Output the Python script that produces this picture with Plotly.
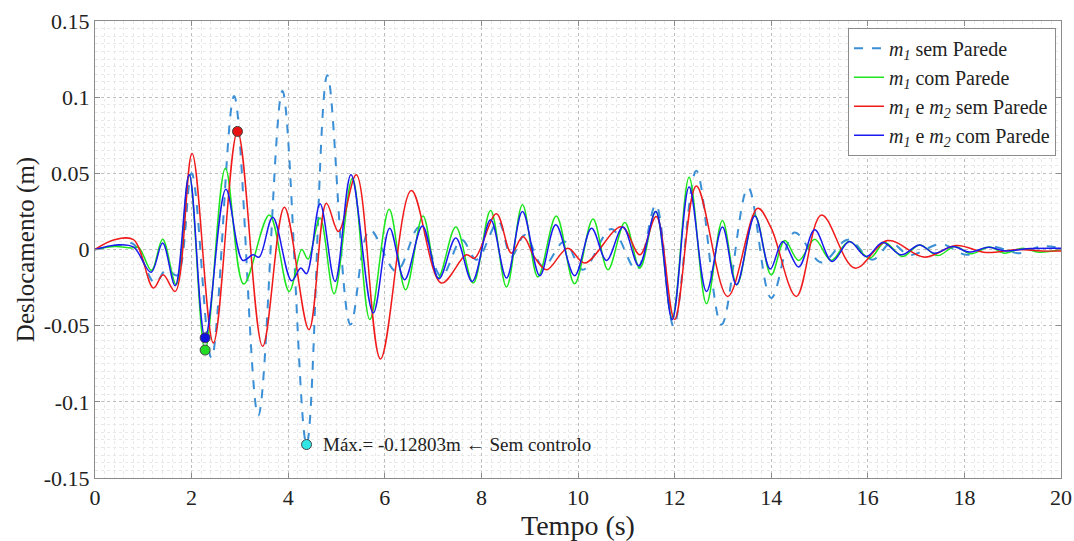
import plotly.graph_objects as go

# Deslocamento do piso 1 - comparacao dos quatro casos

t_m1_sem = [0, 0.52, 0.79, 1.24, 1.48, 1.70, 2.00, 2.41, 2.88, 3.38, 3.88, 4.38, 4.81, 5.29, 5.69,
            6.24, 6.72, 7.17, 7.59, 7.90, 8.35, 8.62, 8.90, 9.28, 9.72, 10.10, 10.69, 11.21, 11.61,
            11.98, 12.45, 12.97, 13.52, 14.0, 14.48, 15.04, 15.59, 16.1, 16.48, 16.86, 17.52, 18.04,
            18.55, 19.14, 19.59, 20]
y_m1_sem = [0, 0.003, 0.0037, -0.022, -0.013, -0.017, 0.050, -0.0711, 0.1007, -0.109, 0.104, -0.128,
            0.1144, -0.0493, 0.0129, -0.0144, 0.015, -0.0177, 0.0064, -0.0067, 0.0183, -0.0046, 0.0096,
            -0.0111, 0.0052, -0.0133, 0.0134, -0.0133, 0.0293, -0.0504, 0.0517, -0.0493, 0.0406, -0.0318,
            0.0111, -0.0085, 0.0064, -0.0067, 0.0042, -0.0035, 0.0035, -0.0035, 0.002, -0.0024, 0.002, 0.001]

t_m1_com = [0, 0.42, 0.75, 0.9, 1.17, 1.40, 1.68, 1.95, 2.28, 2.70, 3.08, 3.61, 4.02, 4.28, 4.41, 4.66,
            4.95, 5.33, 5.69, 6.09, 6.43, 6.79, 7.10, 7.47, 7.83, 8.19, 8.52, 8.85, 9.17, 9.55, 9.93,
            10.31, 10.62, 10.97, 11.28, 11.61, 11.95, 12.30, 12.66, 12.99, 13.29, 13.66, 14.0, 14.28,
            14.57, 14.90, 15.24, 15.61, 16.04, 16.35, 16.72, 17.07, 17.45, 17.8, 18.14, 18.52, 18.83,
            19.2, 19.55, 20]
y_m1_com = [0, 0.002, 0.001, 0.0015, -0.0137, 0.0068, -0.0231, 0.049, -0.066, 0.0533, -0.0227, 0.0227,
            -0.0275, 0.0, -0.0063, 0.0206, -0.029, 0.0467, -0.046, 0.0264, -0.0264, 0.022, -0.0187,
            0.0147, -0.022, 0.0256, -0.0246, 0.0293, -0.018, 0.022, -0.0225, 0.02, -0.0133, 0.0177,
            -0.0122, 0.0249, -0.045, 0.0474, -0.0356, 0.019, -0.0231, 0.0227, -0.0166, 0.0059, -0.0072,
            0.0068, -0.0072, 0.0052, -0.0057, 0.0046, -0.0046, 0.003, -0.004, 0.002, -0.0028, 0.0016,
            -0.0024, 0.0008, -0.0018, 0.0]

t_m12_sem = [0, 0.4, 0.8, 1.21, 1.41, 1.66, 2.01, 2.45, 2.95, 3.47, 3.92, 4.43, 4.79, 5.04, 5.41, 5.91,
             6.55, 7.17, 7.69, 7.86, 8.31, 8.62, 8.86, 9.10, 9.35, 9.79, 10.14, 10.9, 11.28, 11.62, 12.0,
             12.45, 13.1, 13.72, 14.0, 14.52, 15.04, 15.73, 16.41, 17.17, 17.83, 18.45, 19.1, 19.6, 20]
y_m12_sem = [0, 0.0064, 0.0064, -0.0253, -0.0166, -0.0275, 0.063, -0.0613, 0.0775, -0.0635, 0.0278,
             -0.0526, 0.0304, 0.0118, 0.049, -0.0718, 0.0387, -0.022, -0.0035, -0.0057, 0.0234, -0.0024,
             0.0085, -0.0050, -0.0133, 0.0009, -0.0089, 0.015, -0.0035, 0.0216, -0.046, 0.0417, -0.0308,
             0.0271, 0.014, -0.0308, 0.0227, -0.0122, 0.0059, -0.005, 0.0026, -0.002, 0.0, -0.001, -0.001]

t_m12_com = [0, 0.45, 0.8, 1.16, 1.40, 1.66, 1.95, 2.28, 2.71, 3.06, 3.27, 3.40, 3.68, 4.07, 4.26, 4.38,
             4.66, 4.97, 5.30, 5.76, 6.10, 6.41, 6.78, 7.12, 7.47, 7.81, 8.19, 8.52, 8.85, 9.21, 9.54,
             9.93, 10.28, 10.59, 10.93, 11.26, 11.61, 11.95, 12.30, 12.66, 12.99, 13.28, 13.66, 13.98,
             14.24, 14.57, 14.90, 15.26, 15.62, 15.97, 16.31, 16.69, 17.07, 17.38, 17.76, 18.1, 18.5,
             18.86, 19.28, 20]
y_m12_com = [0, 0.003, 0.0015, -0.015, 0.0042, -0.0238, 0.049, -0.058, 0.0396, -0.0072, -0.0035, -0.005,
             0.0212, -0.0205, -0.0122, -0.0159, 0.030, -0.021, 0.049, -0.0417, 0.014, -0.0198, 0.0155,
             -0.0192, 0.0075, -0.021, 0.0195, -0.0187, 0.025, -0.0172, 0.0162, -0.0172, 0.014, -0.0072,
             0.0147, -0.0107, 0.025, -0.046, 0.041, -0.0275, 0.0147, -0.0231, 0.022, -0.0128, 0.0052,
             -0.0115, 0.0129, -0.0078, 0.0052, -0.0046, 0.0046, -0.0035, 0.003, -0.0024, 0.002, -0.0017,
             0.0014, -0.001, 0.0005, 0.0008]

# pontos de maximo assinalados
max_t = [4.38, 2.28, 2.95, 2.28]
max_y = [-0.12803, -0.066, 0.0775, -0.058]
max_cor = ["#33e6e6", "#22dd22", "#e81010", "#1010e0"]

x_ticks = [0, 2, 4, 6, 8, 10, 12, 14, 16, 18, 20]
y_ticks = [-0.15, -0.1, -0.05, 0, 0.05, 0.1, 0.15]
y_tick_text = ["-0.15", "-0.1", "-0.05", "0", "0.05", "0.1", "0.15"]

fonte = "Liberation Serif"

fig = go.Figure()
fig.add_trace(go.Scatter(x=t_m1_sem, y=y_m1_sem, mode="lines", line_shape="spline",
                         name="<i>m<sub>1</sub></i> sem Parede",
                         line=dict(color="#3a8fd6", width=2, dash="dash")))
fig.add_trace(go.Scatter(x=t_m1_com, y=y_m1_com, mode="lines", line_shape="spline",
                         name="<i>m<sub>1</sub></i> com Parede",
                         line=dict(color="#1ee61e", width=1.5)))
fig.add_trace(go.Scatter(x=t_m12_sem, y=y_m12_sem, mode="lines", line_shape="spline",
                         name="<i>m<sub>1</sub></i> e <i>m<sub>2</sub></i> sem Parede",
                         line=dict(color="#f01a1a", width=1.5)))
fig.add_trace(go.Scatter(x=t_m12_com, y=y_m12_com, mode="lines", line_shape="spline",
                         name="<i>m<sub>1</sub></i> e <i>m<sub>2</sub></i> com Parede",
                         line=dict(color="#1a1af0", width=1.5)))
fig.add_trace(go.Scatter(x=max_t, y=max_y, mode="markers", showlegend=False,
                         marker=dict(size=10, color=max_cor, line=dict(width=1, color="#444444"))))

fig.add_annotation(x=4.68, y=-0.12803, text="Máx.= -0.12803m ← Sem controlo", showarrow=False,
                   xanchor="left", yanchor="middle", font=dict(family=fonte, size=19, color="#222222"))

eixo = dict(showline=True, linecolor="#8c8c8c", linewidth=1, mirror="ticks", ticks="inside",
            ticklen=5, tickcolor="#8c8c8c", zeroline=False, showgrid=True, gridcolor="#bdbdbd",
            griddash="dot", gridwidth=1, automargin=False,
            tickfont=dict(family=fonte, size=22, color="#222222"))

fig.update_xaxes(**eixo, range=[0, 20], tickvals=x_ticks,
                 minor=dict(dtick=0.2, showgrid=True, gridcolor="#e8e8e8", griddash="dot", ticks=""),
                 title=dict(text="Tempo (s)", font=dict(family=fonte, size=28, color="#222222"), standoff=5))
fig.update_yaxes(**eixo, range=[-0.15, 0.15], tickvals=y_ticks, ticktext=y_tick_text,
                 minor=dict(dtick=0.005, showgrid=True, gridcolor="#e8e8e8", griddash="dot", ticks=""),
                 title=dict(text="Deslocamento (m)", font=dict(family=fonte, size=25, color="#222222"),
                            standoff=2))

fig.update_layout(
    width=1074, height=541,
    margin=dict(l=95, r=13, t=21, b=63),
    paper_bgcolor="white", plot_bgcolor="white",
    font=dict(family=fonte, color="#222222"),
    legend=dict(x=0.7795, y=0.985, xanchor="left", yanchor="top", bgcolor="white",
                bordercolor="#8c8c8c", borderwidth=1, font=dict(family=fonte, size=20, color="#222222"),
                tracegroupgap=2),
)

# tira a margem de 8 px do corpo da pagina
fig.write_html("out.html", config={"displayModeBar": False},
               post_script="document.body.style.margin='0';")
